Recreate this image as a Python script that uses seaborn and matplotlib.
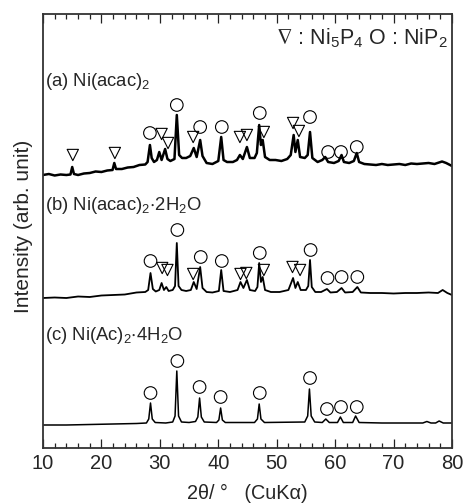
import matplotlib
matplotlib.use('Agg')
import matplotlib.pyplot as plt
from matplotlib.ticker import MultipleLocator
import pandas as pd
import seaborn as sns

# ---------------- data (2theta in degrees, intensity in arbitrary offset units) ----------------
a_two_theta = [10, 11, 12, 13, 14, 14.7, 15.0, 15.3, 16, 17, 18, 19, 20, 21, 21.9, 22.2, 22.5, 23.5,
               24.5, 25.5, 26.5, 27.5, 27.9, 28.3, 28.6, 29.0, 29.5, 29.9, 30.3, 30.9, 31.3, 31.8,
               32.5, 32.9, 33.3, 33.8, 34.5, 35.2, 35.8, 36.3, 36.9, 37.3, 38, 39, 40.0, 40.5, 40.9,
               41.5, 42.5, 43.2, 43.7, 44.2, 44.9, 45.4, 46.2, 46.6, 47.0, 47.3, 47.6, 48.0, 48.8,
               49.8, 50.8, 51.8, 52.4, 52.9, 53.2, 53.6, 54.0, 54.8, 55.3, 55.7, 56.1, 57.0, 57.8,
               58.3, 58.8, 59.8, 60.6, 61.1, 61.5, 62.4, 63.2, 63.7, 64.1, 65, 66, 67, 68, 69, 70,
               71, 72, 73, 74, 75, 76, 77, 78.3, 79, 80]
a_intensity = [273, 274, 272.5, 273.5, 273, 273.5, 281, 274, 273, 274.5, 275, 276.5, 276, 277.5, 278,
               285, 279, 279, 280.5, 281, 283, 283.5, 286, 303, 290, 286, 288, 296, 288, 299, 289,
               287, 289, 333, 293, 290, 290, 292, 300, 291, 308, 292, 285, 284, 287, 311, 288, 286,
               286, 288, 293, 289, 301, 290, 290, 295, 323, 303, 308, 291, 288, 288, 287, 289, 293,
               313, 296, 308, 291, 290, 293, 316, 290, 286, 288, 291, 286, 285, 287, 293, 286, 285,
               287, 295, 286, 284, 283.5, 283, 284, 283, 283.5, 284, 283, 284.5, 284, 284.5, 285,
               284, 286.5, 285, 282]

b_two_theta = [10, 12, 14, 16, 18, 20, 22, 24, 26, 27.5, 28.0, 28.4, 28.8, 29.3, 29.9, 30.3, 30.7,
               31.1, 31.5, 32.2, 32.6, 32.9, 33.2, 33.7, 34.5, 35.3, 35.8, 36.3, 36.9, 37.3, 38, 39,
               40.1, 40.5, 40.9, 42, 43.3, 43.8, 44.3, 44.9, 45.4, 46.3, 46.7, 47.0, 47.3, 47.6, 48.0,
               49, 50.5, 52, 52.8, 53.2, 53.6, 54.1, 55.0, 55.4, 55.7, 56.0, 56.6, 57.6, 58.6, 59.2,
               60.3, 61.1, 61.7, 63.0, 63.8, 64.4, 66, 68, 70, 72, 74, 76, 77.6, 78.4, 79.2, 80]
b_intensity = [150, 150.5, 150, 151.5, 151, 152.5, 153, 153.5, 155.5, 156, 158, 175, 159, 156.5, 158,
               165, 158, 161, 157, 158, 162, 205, 162, 158, 157, 158, 166, 159, 181, 160, 156, 155.5,
               157, 178, 157, 156, 158, 166, 160, 168, 158, 157, 161, 185, 166, 171, 158, 156, 156,
               158, 170, 160, 166, 158, 158, 162, 188, 161, 156, 156, 159, 155.5, 156, 160, 155.5,
               156, 161, 155.5, 155, 155, 154.5, 155, 155, 155.5, 155, 158, 155, 153]

c_two_theta = [10, 14, 18, 22, 26, 27.7, 28.1, 28.4, 28.7, 29.2, 31, 32.2, 32.6, 32.9, 33.2, 33.7, 35,
               36.1, 36.5, 36.8, 37.1, 37.6, 39.7, 40.1, 40.4, 40.7, 41.2, 46.2, 46.7, 47.0, 47.3,
               47.9, 54.8, 55.3, 55.6, 55.9, 56.5, 57.8, 58.4, 59.0, 60.4, 60.9, 61.4, 63.0, 63.5,
               64.1, 68, 72, 75.0, 75.7, 76.4, 77.2, 77.8, 78.5, 80]
c_intensity = [23, 23, 23.5, 24, 24.5, 25, 29, 45, 29, 25.5, 25, 26, 32, 77, 32, 26, 25.5, 26.5, 31, 50,
               31, 26, 25.5, 28, 40, 28, 25.5, 25.5, 29, 44, 29, 25.5, 26, 32, 59, 32, 26, 25.5, 29,
               25.5, 25.5, 31, 25.5, 25.5, 32, 25.5, 25, 25, 25, 26.5, 25, 25, 27, 25, 25]

# phase markers: NiP2 (circles) and Ni5P4 (triangles)
nip2_two_theta = [28.3, 32.9, 36.9, 40.6, 47.1, 55.7, 58.8, 61.0, 63.7,
                  28.4, 33.0, 37.0, 40.6, 47.1, 55.8, 58.7, 61.1, 63.8,
                  28.4, 33.0, 36.8, 40.4, 47.1, 55.7, 58.6, 61.0, 63.7]
nip2_level = [315, 343, 321, 321, 335, 331, 296, 296, 301,
              187, 218, 191, 187, 195, 198, 170, 171, 171,
              55, 87, 61, 51, 55, 70, 39, 41, 41]
ni5p4_two_theta = [15.1, 22.3, 30.3, 31.4, 35.7, 43.7, 44.9, 47.8, 52.8, 53.8,
                   30.4, 31.3, 35.7, 43.8, 44.8, 47.8, 52.7, 54.0]
ni5p4_level = [293, 295, 314, 305, 311, 311, 313, 316, 325, 317,
               180, 178, 174, 174, 175, 178, 181, 178]

sample_labels = ["(a) Ni(acac)$_2$", "(b) Ni(acac)$_2$$\\cdot$2H$_2$O", "(c) Ni(Ac)$_2$$\\cdot$4H$_2$O"]
sample_label_levels = [366, 243, 113]
x_ticks = [10, 20, 30, 40, 50, 60, 70, 80]

# ---------------- style ----------------
sns.set_style('ticks')
plt.rcParams['font.family'] = ['Liberation Sans', 'DejaVu Sans']
plt.rcParams['mathtext.fontset'] = 'custom'
plt.rcParams['mathtext.rm'] = 'Liberation Sans'
plt.rcParams['mathtext.it'] = 'Liberation Sans:italic'
plt.rcParams['mathtext.default'] = 'regular'
plt.rcParams['mathtext.fallback'] = 'stix'

fig = plt.figure(figsize=(4.66, 5.03), dpi=100)
ax = fig.add_axes([43 / 466, 1 - 448 / 503, 409 / 466, 434 / 503])

traces = [(a_two_theta, a_intensity, 1.8), (b_two_theta, b_intensity, 1.3), (c_two_theta, c_intensity, 1.1)]
for xs, ys, lw in traces:
    df = pd.DataFrame({'two_theta': xs, 'intensity': ys})
    sns.lineplot(data=df, x='two_theta', y='intensity', ax=ax, color='black', lw=lw,
                 estimator=None, sort=False)

df_c = pd.DataFrame({'two_theta': nip2_two_theta, 'level': nip2_level})
sns.scatterplot(data=df_c, x='two_theta', y='level', ax=ax, marker='o', s=82,
                facecolors='none', edgecolor='black', linewidth=0.8)
df_t = pd.DataFrame({'two_theta': ni5p4_two_theta, 'level': ni5p4_level})
sns.scatterplot(data=df_t, x='two_theta', y='level', ax=ax, marker='v', s=66,
                facecolors='none', edgecolor='black', linewidth=0.8)

for lab, lev in zip(sample_labels, sample_label_levels):
    ax.text(10.35, lev, lab, fontsize=13.3, ha='left', va='center')

ax.text(79.35, 410, "$\\nabla$ : Ni$_5$P$_4$ O : NiP$_2$", fontsize=15.5, ha='right', va='center')

ax.set_xlim(10, 80)
ax.set_ylim(0, 434)
ax.set_xticks(x_ticks)
ax.xaxis.set_minor_locator(MultipleLocator(2))
ax.set_yticks([])
ax.tick_params(axis='x', which='both', direction='in', top=True, bottom=True, width=0.9, color='#222222')
ax.tick_params(axis='x', which='major', length=6.5, labelsize=14.5, pad=4)
ax.tick_params(axis='x', which='minor', length=3.5)
for sp in ax.spines.values():
    sp.set_visible(True)
    sp.set_linewidth(1.3)
    sp.set_color('#333333')

ax.set_xlabel("2\u03b8/ \u00b0   (CuK\u03b1)", fontsize=14.3, labelpad=8)
ax.set_ylabel("Intensity (arb. unit)", fontsize=15)
ax.yaxis.set_label_coords(-0.0245, 0.5115)

fig.savefig('out.png', dpi=100)
